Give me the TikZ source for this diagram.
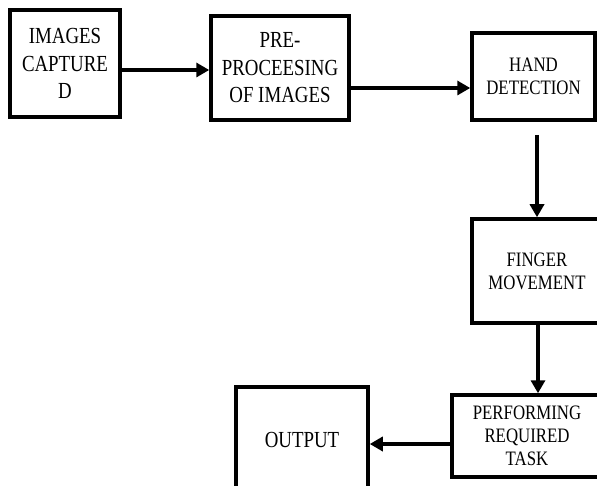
\documentclass[tikz,border=0pt]{standalone}
\usepackage{fontspec}
\setmainfont{Liberation Serif}[FakeStretch=0.82]
\usetikzlibrary{arrows.meta}
\tikzset{
  box/.style={draw=black, line width=3.5pt, fill=white, align=center, inner sep=0pt},
  bigtxt/.style={font=\fontsize{23}{27.5}\selectfont},
  smalltxt/.style={font=\fontsize{20.5}{23}\selectfont},
  arr/.style={line width=4pt, -{Triangle[length=13pt,width=14pt]}}
}
\begin{document}
\begin{tikzpicture}[x=1pt,y=-1pt]
\useasboundingbox (0,0) rectangle (597,486);
\clip (0,0) rectangle (597,486);
\node[box,bigtxt,minimum width=110pt,minimum height=107pt] (b1) at (65,63.5) {IMAGES\\CAPTURE\\D};
\node[box,bigtxt,minimum width=138pt,minimum height=104pt] (b2) at (280,68) {PRE-\\PROCEESING\\OF IMAGES};
\node[box,smalltxt,minimum width=123pt,minimum height=87pt] (b3) at (533.5,76.5) {HAND\\DETECTION};
\node[box,smalltxt,minimum width=130pt,minimum height=104pt] (b4) at (537,271) {FINGER\\MOVEMENT};
\node[box,smalltxt,minimum width=150pt,minimum height=82pt] (b5) at (527,436) {PERFORMING\\REQUIRED\\TASK};
\node[box,bigtxt,minimum width=132pt,minimum height=106pt] (b6) at (302,440) {OUTPUT};
\coordinate (c3) at (537,135);
\draw[arr] (b1.east |- 0,70) -- (b2.west |- 0,70);
\draw[arr] (b2.east |- 0,88) -- (b3.west |- 0,88);
\draw[arr] (c3) -- (c3 |- b4.north);
\draw[arr] (b4.south -| 538,0) -- (b5.north -| 538,0);
\draw[arr] (b5.west |- 0,444) -- (b6.east |- 0,444);
\end{tikzpicture}
\end{document}
